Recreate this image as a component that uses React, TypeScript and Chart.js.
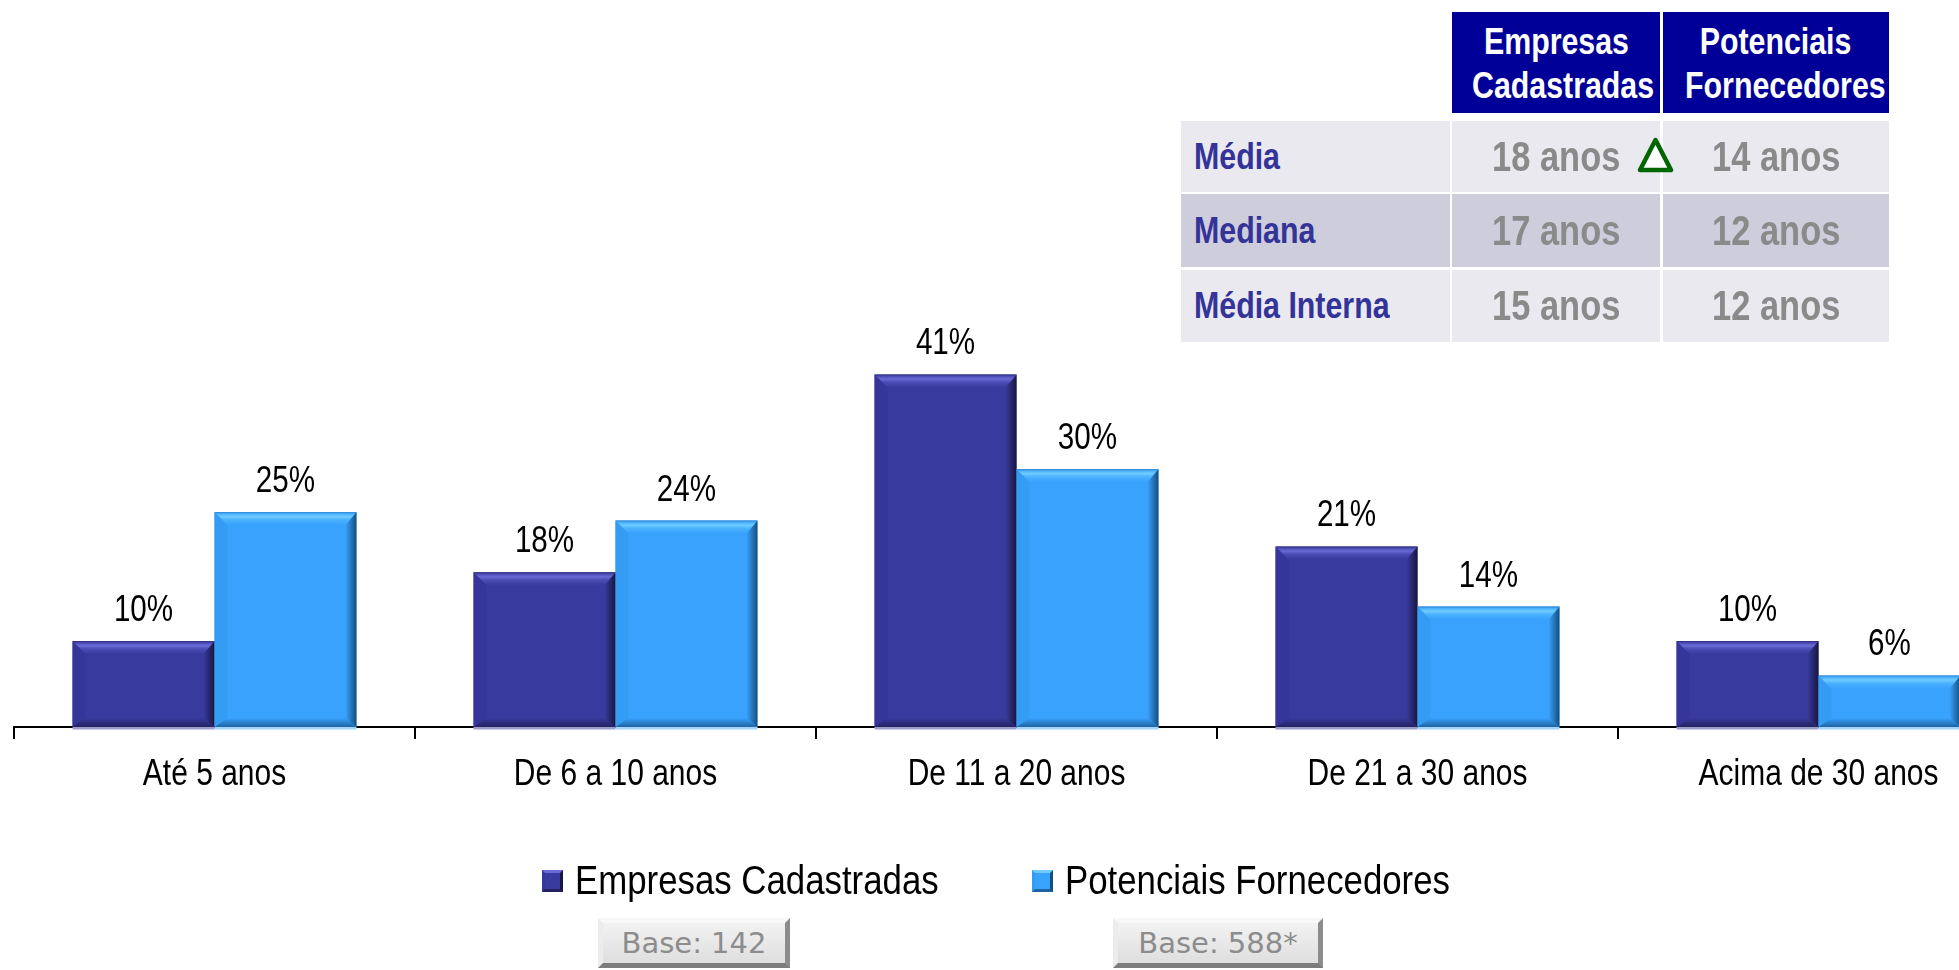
import React, { useEffect, useRef } from "react";
import { Chart, registerables } from "chart.js";

Chart.register(...registerables);

const categories = ["Até 5 anos", "De 6 a 10 anos", "De 11 a 20 anos", "De 21 a 30 anos", "Acima de 30 anos"];
const seriesNames = ["Empresas Cadastradas", "Potenciais Fornecedores"];
const empresasCadastradas = [10, 18, 41, 21, 10];
const potenciaisFornecedores = [25, 24, 30, 14, 6];
const baseLabels = ["Base: 142", "Base: 588*"];
const tableHeaders = [["Empresas", "Cadastradas"], ["Potenciais", "Fornecedores"]];
const tableRowLabels = ["Média", "Mediana", "Média Interna"];
const tableEmpresas = ["18 anos", "17 anos", "15 anos"];
const tablePotenciais = ["14 anos", "12 anos", "12 anos"];

const SANS = "'Liberation Sans', Arial, sans-serif";

const palette = [
  { body: "#393A9E", top: "#6A6AD4", mid: "#4C4CB4", topEdge: "#2C2C7E", left: "#36369A", right: "#17173F", bottom: "#222260", strip: "#9E9ECC" },
  { body: "#38A2FD", top: "#70CCFF", mid: "#4CB2FF", topEdge: "#2C84D2", left: "#359CF4", right: "#164E7E", bottom: "#1F64A2", strip: "#A4D3FF" },
];

function narrowText(ctx: CanvasRenderingContext2D, text: string, x: number, y: number, sx: number) {
  ctx.save();
  ctx.translate(x, y);
  ctx.scale(sx, 1);
  ctx.fillText(text, 0, 0);
  ctx.restore();
}

const bevelPlugin = {
  id: "bevel",
  afterDatasetsDraw(chart: any) {
    const ctx = chart.ctx;
    chart.data.datasets.forEach((ds: any, di: number) => {
      const meta = chart.getDatasetMeta(di);
      const c = palette[di];
      meta.data.forEach((el: any, idx: number) => {
        const p = el.getProps(["x", "y", "base", "width"], true);
        const l = p.x - p.width / 2;
        const r = p.x + p.width / 2;
        const t = p.y;
        const b = p.base;
        const bv = 13;
        const bs = 11;
        const bb = 9;
        ctx.save();
        // left
        ctx.fillStyle = c.left;
        ctx.beginPath();
        ctx.moveTo(l, t); ctx.lineTo(l + bv, t + bv); ctx.lineTo(l + bv, b - bb); ctx.lineTo(l, b); ctx.closePath(); ctx.fill();
        // right
        const gr = ctx.createLinearGradient(r - bs, 0, r, 0);
        gr.addColorStop(0, c.body);
        gr.addColorStop(1, c.right);
        ctx.fillStyle = gr;
        ctx.beginPath();
        ctx.moveTo(r, t); ctx.lineTo(r - bs, t + bv); ctx.lineTo(r - bs, b - bb); ctx.lineTo(r, b); ctx.closePath(); ctx.fill();
        // bottom
        const gb = ctx.createLinearGradient(0, b - bb, 0, b);
        gb.addColorStop(0, c.body);
        gb.addColorStop(1, c.bottom);
        ctx.fillStyle = gb;
        ctx.beginPath();
        ctx.moveTo(l, b); ctx.lineTo(r, b); ctx.lineTo(r - bs, b - bb); ctx.lineTo(l + bv, b - bb); ctx.closePath(); ctx.fill();
        // top
        const g = ctx.createLinearGradient(0, t, 0, t + bv);
        g.addColorStop(0, c.topEdge);
        g.addColorStop(0.15, c.mid);
        g.addColorStop(0.35, c.top);
        g.addColorStop(0.6, c.mid);
        g.addColorStop(1, c.body);
        ctx.fillStyle = g;
        ctx.beginPath();
        ctx.moveTo(l, t); ctx.lineTo(r, t); ctx.lineTo(r - bs, t + bv); ctx.lineTo(l + bv, t + bv); ctx.closePath(); ctx.fill();
        // reflection strip under the axis
        ctx.fillStyle = c.strip;
        ctx.fillRect(l, b, p.width, 2.5);
        // value label
        ctx.fillStyle = "#000";
        ctx.font = `37px ${SANS}`;
        ctx.textAlign = "center";
        ctx.textBaseline = "alphabetic";
        narrowText(ctx, `${ds.data[idx]}%`, p.x, t - 20, 0.8);
        ctx.restore();
      });
    });
    // category labels under the axis
    const xs = chart.scales.x;
    ctx.save();
    ctx.fillStyle = "#000";
    ctx.font = `37px ${SANS}`;
    ctx.textAlign = "center";
    ctx.textBaseline = "alphabetic";
    chart.data.labels.forEach((lab: string, i: number) => {
      narrowText(ctx, lab, xs.getPixelForValue(i), 785, 0.81);
    });
    ctx.restore();
  },
};

const nar = (sx: number, origin: string): React.CSSProperties => ({ display: "inline-block", transform: `scaleX(${sx})`, transformOrigin: origin, whiteSpace: "nowrap" });

function Table() {
  const rowTops = [121, 194, 270];
  const rowHeights = [71, 73, 72];
  const rowBg = ["#E9E9EF", "#CDCDDB", "#E9E9EF"];
  const colLeft = [1452, 1663];
  const colWidth = [208, 226];
  const cells: React.ReactNode[] = [];
  tableHeaders.forEach((h, i) => {
    cells.push(
      <div key={"h" + i} style={{ position: "absolute", left: colLeft[i], top: 12, width: colWidth[i], height: 101, background: "#000099", color: "#fff", fontFamily: SANS, fontWeight: 700, fontSize: 37, lineHeight: "44px", textAlign: "center", boxSizing: "border-box", paddingTop: 8, whiteSpace: "nowrap" }}>
        <span style={nar(0.82, "center")}>{h[0]}</span><br /><span style={nar(0.82, "center")}>{h[1]}</span>
      </div>
    );
  });
  tableRowLabels.forEach((lab, ri) => {
    cells.push(
      <div key={"l" + ri} style={{ position: "absolute", left: 1181, top: rowTops[ri], width: 269, height: rowHeights[ri], background: rowBg[ri], color: "#333399", fontFamily: SANS, fontWeight: 700, fontSize: 37, lineHeight: rowHeights[ri] + "px", paddingLeft: 13, boxSizing: "border-box", whiteSpace: "nowrap" }}>
        <span style={nar(0.82, "left")}>{lab}</span>
      </div>
    );
    [tableEmpresas[ri], tablePotenciais[ri]].forEach((v, ci) => {
      cells.push(
        <div key={"v" + ri + "_" + ci} style={{ position: "absolute", left: colLeft[ci], top: rowTops[ri], width: colWidth[ci], height: rowHeights[ri], background: rowBg[ri], color: "#8A8A8A", fontFamily: SANS, fontWeight: 700, fontSize: 42, lineHeight: rowHeights[ri] + "px", textAlign: "center", whiteSpace: "nowrap" }}>
          <span style={nar(0.82, "center")}>{v}</span>
        </div>
      );
    });
  });
  return (
    <>
      {cells}
      <svg style={{ position: "absolute", left: 1637, top: 137 }} width={37} height={36} viewBox="0 0 37 36">
        <polygon points="18.5,3 34,33 3,33" fill="#fff" stroke="#006600" strokeWidth={4.5} strokeLinejoin="round" />
      </svg>
    </>
  );
}

function Legend() {
  const lefts = [542, 1032];
  const textLefts = [575, 1065];
  return (
    <>
      {seriesNames.map((n, i) => (
        <React.Fragment key={n}>
          <div style={{ position: "absolute", left: lefts[i], top: 870, width: 21, height: 22, boxSizing: "border-box", background: palette[i].body, borderStyle: "solid", borderWidth: 3, borderColor: `${palette[i].top} ${palette[i].right} ${palette[i].bottom} ${palette[i].left}` }} />
          <div style={{ position: "absolute", left: textLefts[i], top: 860, fontFamily: SANS, fontSize: 40, lineHeight: "40px", color: "#000", whiteSpace: "nowrap" }}>
            <span style={nar(0.87, "left")}>{n}</span>
          </div>
        </React.Fragment>
      ))}
      {baseLabels.map((b, i) => (
        <div key={b} style={{ position: "absolute", left: [598, 1113][i], top: 918, width: [192, 210][i], height: 50, boxSizing: "border-box", background: "linear-gradient(#f2f2f2, #dedede)", borderStyle: "solid", borderWidth: 5, borderColor: "#f8f8f8 #8c8c8c #7c7c7c #ececec", fontFamily: "'DejaVu Sans', Verdana, sans-serif", fontSize: 29, lineHeight: "40px", color: "#8C8C8C", textAlign: "center", whiteSpace: "nowrap" }}>
          {b}
        </div>
      ))}
    </>
  );
}

export default function App() {
  const canvasRef = useRef<HTMLCanvasElement | null>(null);
  useEffect(() => {
    if (!canvasRef.current) return;
    const chart = new Chart(canvasRef.current, {
      type: "bar",
      data: {
        labels: categories,
        datasets: [
          { label: seriesNames[0], data: empresasCadastradas, backgroundColor: palette[0].body, borderWidth: 0 },
          { label: seriesNames[1], data: potenciaisFornecedores, backgroundColor: palette[1].body, borderWidth: 0 },
        ],
      },
      options: {
        responsive: false,
        animation: false,
        devicePixelRatio: 1,
        events: [],
        layout: { padding: { left: 14, right: 11, top: 39, bottom: 0 } },
        datasets: { bar: { categoryPercentage: 0.708, barPercentage: 1 } },
        plugins: { legend: { display: false }, tooltip: { enabled: false } },
        scales: {
          x: {
            offset: true,
            grid: { display: true, drawOnChartArea: false, drawTicks: true, tickLength: 12, color: "#000", lineWidth: 2, offset: true },
            border: { display: true, color: "#000", width: 2 },
            ticks: { display: false, autoSkip: false },
            afterFit: (scale: any) => { scale.height = 243; },
          },
          y: { display: false, min: 0, max: 80 },
        },
      } as any,
      plugins: [bevelPlugin],
    });
    return () => chart.destroy();
  }, []);
  return (
    <div style={{ position: "fixed", left: 0, top: 0, width: 1959, height: 970, overflow: "hidden", background: "#fff" }}>
      <canvas ref={canvasRef} width={2030} height={970} style={{ position: "absolute", left: 0, top: 0, width: 2030, height: 970 }} />
      <Table />
      <Legend />
    </div>
  );
}
